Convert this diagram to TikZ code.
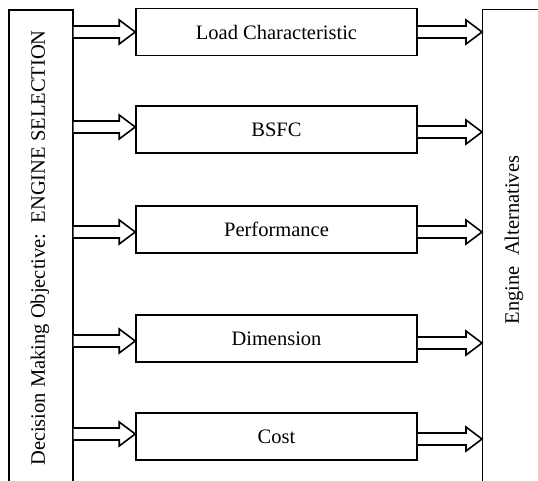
\documentclass[tikz,border=0pt]{standalone}
\usepackage{fontspec}
\setmainfont{Liberation Serif}
\usetikzlibrary{calc}
\tikzset{
  mbox/.style={draw, line width=1.6pt, minimum width=281pt, minimum height=47pt, inner sep=0pt, font=\fontsize{20.5}{24}\selectfont},
  sidebox/.style={draw, line width=1.6pt, inner sep=0pt},
  blockarrow/.style={draw, line width=1.6pt, fill=white, line join=miter,
    to path={let \p1=(\tikztostart), \p2=(\tikztotarget) in
      (\x1,\y2+6pt) -- (\x2-16pt,\y2+6pt) -- (\x2-16pt,\y2+12pt) -- (\x2,\y2)
      -- (\x2-16pt,\y2-12pt) -- (\x2-16pt,\y2-6pt) -- (\x1,\y2-6pt)}}
}
\begin{document}
\begin{tikzpicture}[x=1pt,y=-1pt]
\useasboundingbox (0,0) rectangle (538,480);
\clip (0,0) rectangle (538,480);
\node[sidebox, minimum width=64pt, minimum height=490pt, anchor=north west] (L) at (8,9) {};
\node[rotate=90, font=\fontsize{20.5}{24}\selectfont] (Ltext) at (40,248) {Decision Making Objective:\ \ ENGINE SELECTION};
\node[draw, line width=1.1pt, minimum width=70pt, minimum height=490pt, inner sep=0pt, anchor=north west] (R) at (482,9) {};
\node[rotate=90, font=\fontsize{20.5}{24}\selectfont] (Rtext) at (514,240) {Engine\ \ Alternatives};
\node[mbox] (B1) at (276.5,32) {Load Characteristic};
\node[mbox] (B2) at (276.5,129.5) {BSFC};
\node[mbox] (B3) at (276.5,229.5) {Performance};
\node[mbox] (B4) at (276.5,338.5) {Dimension};
\node[mbox] (B5) at (276.5,436.5) {Cost};
\path[blockarrow] (L.east) to (B1.west);
\path[blockarrow] (L.east) to ([yshift=2.5pt]B2.west);
\path[blockarrow] (L.east) to ([yshift=-2.5pt]B3.west);
\path[blockarrow] (L.east) to ([yshift=-2.5pt]B4.west);
\path[blockarrow] (L.east) to ([yshift=2.5pt]B5.west);
\path[blockarrow] (B1.east) to (R.west |- B1.east);
\path[blockarrow] (B2.east) to ([yshift=-2.5pt]R.west |- B2.east);
\path[blockarrow] (B3.east) to ([yshift=-2.5pt]R.west |- B3.east);
\path[blockarrow] (B4.east) to ([yshift=-4.5pt]R.west |- B4.east);
\path[blockarrow] (B5.east) to ([yshift=-2.5pt]R.west |- B5.east);
\end{tikzpicture}
\end{document}
